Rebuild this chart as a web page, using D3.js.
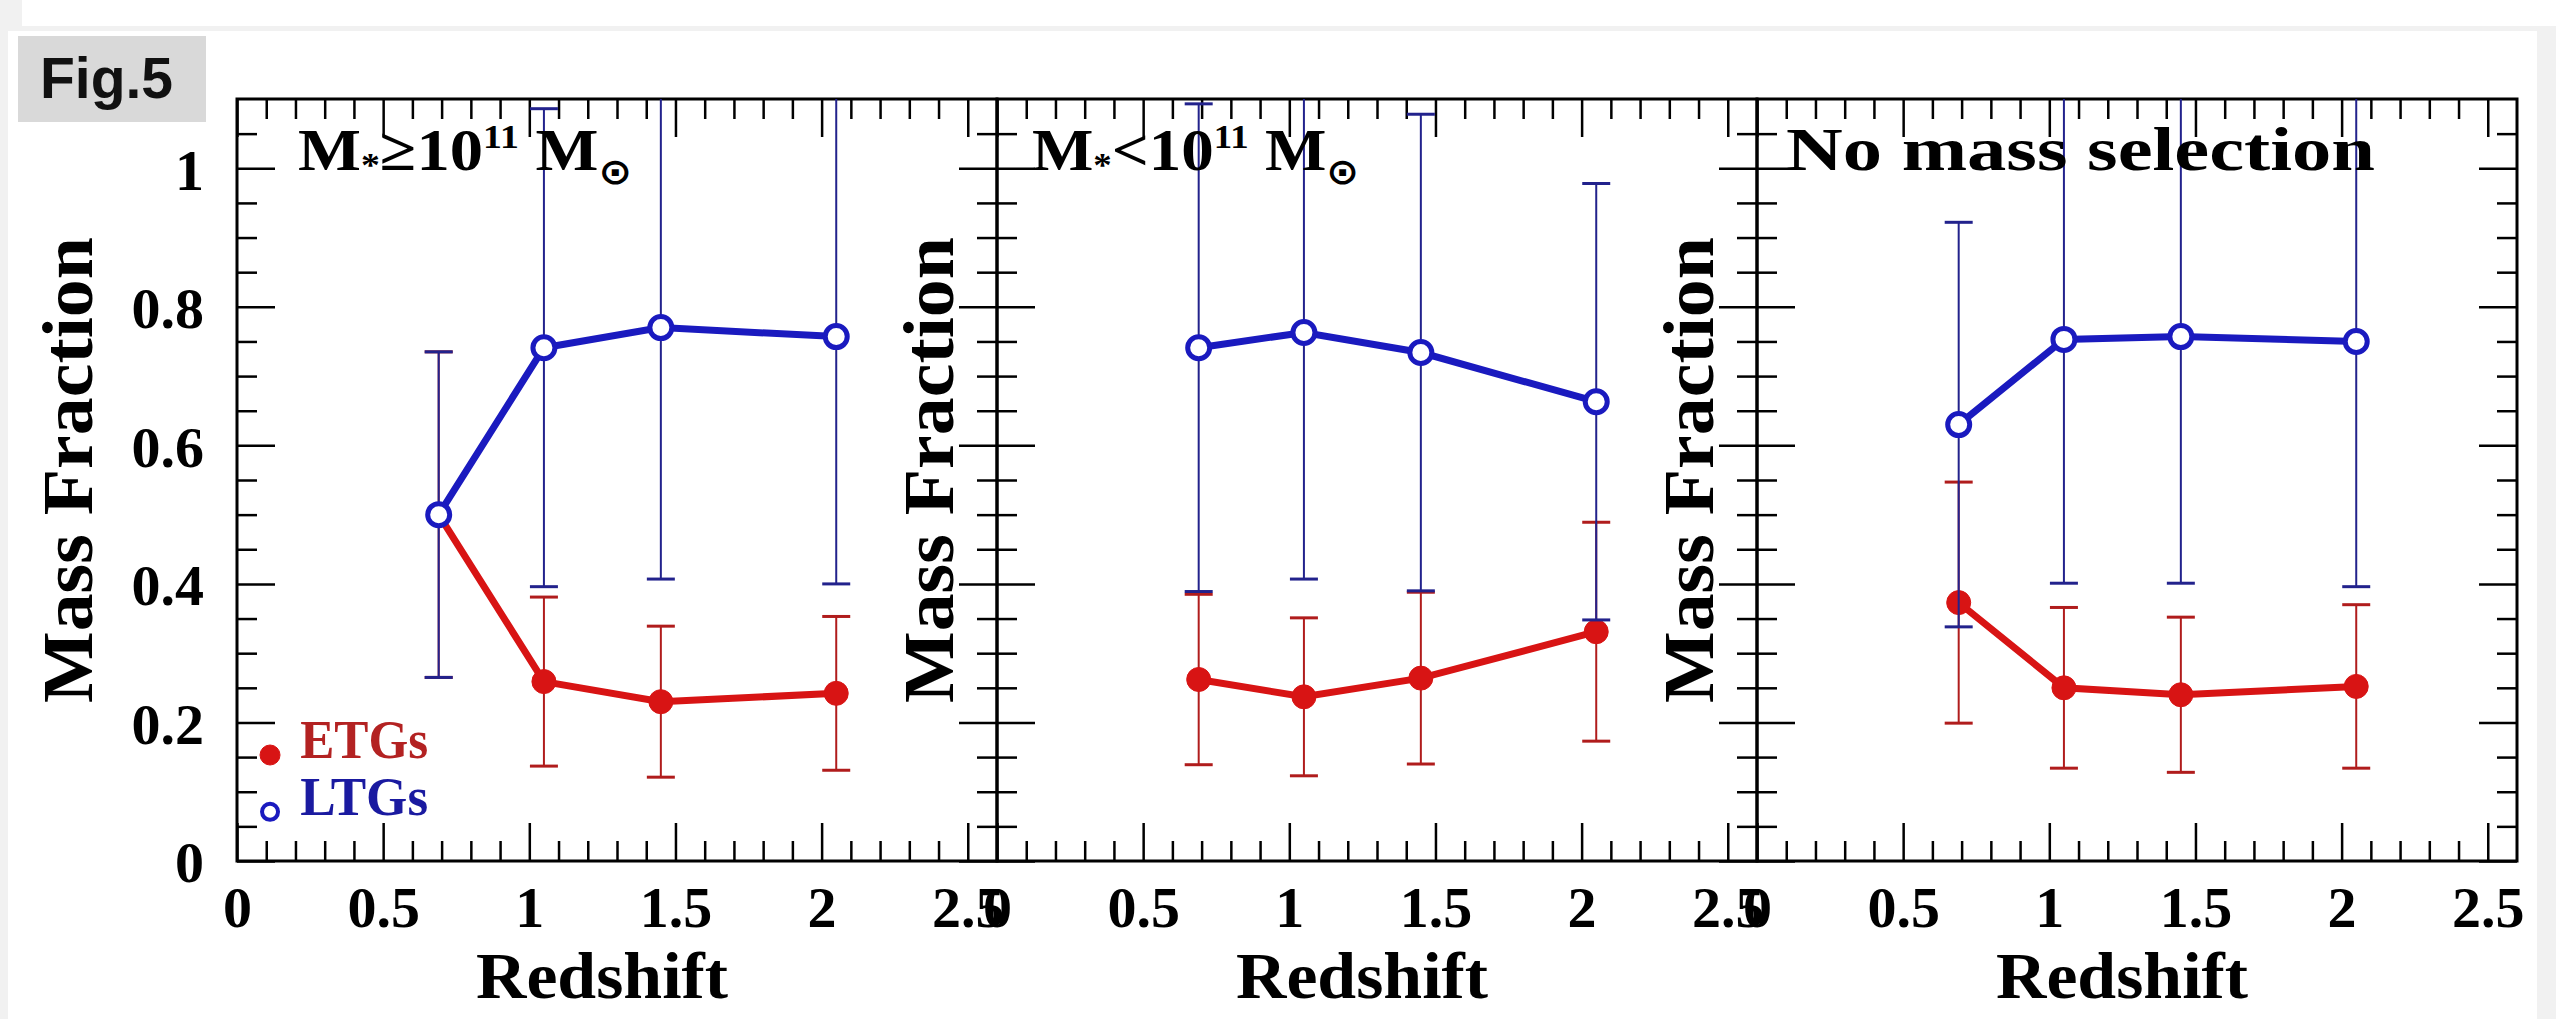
<!DOCTYPE html>
<html>
<head>
<meta charset="utf-8">
<script src="https://cdn.jsdelivr.net/npm/d3@7"></script>
<style>
  html, body { margin: 0; padding: 0; background: #f1f1f1; }
  svg { display: block; }
  .serif { font-family: "Liberation Serif", "DejaVu Serif", serif; font-weight: bold; }
</style>
</head>
<body>
<svg id="chart"></svg>
<script>
// redshift bins (same in every panel)
var redshift = [0.69, 1.05, 1.45, 2.05];

// M* >= 1e11 Msun
var ltgHigh    = [0.500, 0.741, 0.770, 0.757];
var ltgHighErr = [0.235, 0.345, 0.363, 0.357];
var etgHigh    = [0.500, 0.259, 0.230, 0.242];
var etgHighErr = [0.235, 0.122, 0.109, 0.111];

// M* < 1e11 Msun
var ltgLow    = [0.741, 0.763, 0.734, 0.663];
var ltgLowErr = [0.352, 0.356, 0.344, 0.315];
var etgLow    = [0.262, 0.237, 0.264, 0.331];
var etgLowErr = [0.123, 0.114, 0.124, 0.158];

// no mass selection
var ltgAll    = [0.630, 0.753, 0.757, 0.750];
var ltgAllErr = [0.292, 0.352, 0.356, 0.354];
var etgAll    = [0.373, 0.250, 0.240, 0.252];
var etgAllErr = [0.174, 0.116, 0.112, 0.118];

var xTicks = [0, 0.5, 1, 1.5, 2, 2.5];
var yTicks = [0, 0.2, 0.4, 0.6, 0.8, 1];

var W = 2556, H = 1019;
var panelLeft = [237, 997, 1757];
var panelW = 760, plotTop = 99, plotBottom = 861;

var blueLine = "#1a1abf", blueBar = "#22228c";
var redLine = "#d81414", redBar = "#b01c1c";

var svg = d3.select("#chart").attr("width", W).attr("height", H);

// page background pieces
svg.append("rect").attr("width", W).attr("height", H).attr("fill", "#f1f1f1");
svg.append("rect").attr("x", 22).attr("y", 0).attr("width", W - 22).attr("height", 26).attr("fill", "#fff");
svg.append("rect").attr("x", 8).attr("y", 31).attr("width", 2529).attr("height", H - 31).attr("fill", "#fff");

// Fig.5 tag
svg.append("rect").attr("x", 18).attr("y", 36).attr("width", 188).attr("height", 86).attr("fill", "#d9d9d9");
svg.append("text").attr("x", 40).attr("y", 98)
   .attr("font-family", "Liberation Sans, Arial, sans-serif").attr("font-weight", "bold")
   .attr("font-size", "57px").attr("fill", "#111").text("Fig.5");

var panels = [
  {ltg: ltgHigh, ltgErr: ltgHighErr, etg: etgHigh, etgErr: etgHighErr},
  {ltg: ltgLow, ltgErr: ltgLowErr, etg: etgLow, etgErr: etgLowErr},
  {ltg: ltgAll, ltgErr: ltgAllErr, etg: etgAll, etgErr: etgAllErr}
];

var minorX = d3.range(0, 26).map(function(i) { return i / 10; }).filter(function(d, i) { return i % 5 != 0; });
var minorY = d3.range(0, 22).map(function(i) { return i * 0.05; }).filter(function(d, i) { return i % 4 != 0; });

function clean(sel) {
  sel.select(".domain").remove();
  sel.selectAll(".tick line").attr("stroke", "#000").attr("stroke-width", 2.5);
  sel.selectAll(".tick text").attr("class", "serif").attr("fill", "#000").attr("font-size", "58px");
}

panels.forEach(function(p, i) {
  var left = panelLeft[i];
  var x = d3.scaleLinear().domain([0, 2.6]).range([left, left + panelW]);
  var y = d3.scaleLinear().domain([0, 1.1]).range([plotBottom, plotTop]);
  var g = svg.append("g");

  g.append("clipPath").attr("id", "clip" + i)
   .append("rect").attr("x", left).attr("y", plotTop).attr("width", panelW).attr("height", plotBottom - plotTop);

  // ticks: major and minor on all four sides, pointing inwards
  g.append("g").attr("transform", "translate(0," + plotBottom + ")")
   .call(d3.axisBottom(x).tickValues(xTicks).tickSize(-38).tickSizeOuter(0).tickPadding(25)
         .tickFormat(function(d) { return String(d); }))
   .call(clean);
  g.append("g").attr("transform", "translate(0," + plotBottom + ")")
   .call(d3.axisBottom(x).tickValues(minorX).tickSize(-20).tickSizeOuter(0).tickFormat(""))
   .call(clean);
  g.append("g").attr("transform", "translate(0," + plotTop + ")")
   .call(d3.axisTop(x).tickValues(xTicks).tickSize(-38).tickSizeOuter(0).tickFormat(""))
   .call(clean);
  g.append("g").attr("transform", "translate(0," + plotTop + ")")
   .call(d3.axisTop(x).tickValues(minorX).tickSize(-20).tickSizeOuter(0).tickFormat(""))
   .call(clean);
  var yAx = g.append("g").attr("transform", "translate(" + left + ",0)")
   .call(d3.axisLeft(y).tickValues(yTicks).tickSize(-38).tickSizeOuter(0).tickPadding(33)
         .tickFormat(i == 0 ? function(d) { return String(d); } : ""))
   .call(clean);
  yAx.selectAll(".tick text").attr("dy", "0.36em");
  g.append("g").attr("transform", "translate(" + left + ",0)")
   .call(d3.axisLeft(y).tickValues(minorY).tickSize(-20).tickSizeOuter(0).tickFormat(""))
   .call(clean);
  g.append("g").attr("transform", "translate(" + (left + panelW) + ",0)")
   .call(d3.axisRight(y).tickValues(yTicks).tickSize(-38).tickSizeOuter(0).tickFormat(""))
   .call(clean);
  g.append("g").attr("transform", "translate(" + (left + panelW) + ",0)")
   .call(d3.axisRight(y).tickValues(minorY).tickSize(-20).tickSizeOuter(0).tickFormat(""))
   .call(clean);

  g.append("rect").attr("x", left).attr("y", plotTop).attr("width", panelW).attr("height", plotBottom - plotTop)
   .attr("fill", "none").attr("stroke", "#000").attr("stroke-width", 3);

  var plot = g.append("g").attr("clip-path", "url(#clip" + i + ")");

  function series(vals, errs, lineColor, barColor, filled) {
    var pts = redshift.map(function(z, k) { return {z: z, v: vals[k], e: errs[k]}; });
    var bars = plot.append("g").attr("stroke", barColor).attr("stroke-width", 2).attr("fill", "none");
    pts.forEach(function(d) {
      bars.append("line").attr("x1", x(d.z)).attr("x2", x(d.z)).attr("y1", y(d.v - d.e)).attr("y2", y(d.v + d.e));
      [d.v - d.e, d.v + d.e].forEach(function(c) {
        bars.append("line").attr("x1", x(d.z) - 14).attr("x2", x(d.z) + 14).attr("y1", y(c)).attr("y2", y(c))
            .attr("stroke-width", 3);
      });
    });
    plot.append("path").datum(pts)
      .attr("d", d3.line().x(function(d) { return x(d.z); }).y(function(d) { return y(d.v); }))
      .attr("fill", "none").attr("stroke", lineColor).attr("stroke-width", 7);
    plot.selectAll(null).data(pts).enter().append("circle")
      .attr("cx", function(d) { return x(d.z); }).attr("cy", function(d) { return y(d.v); })
      .attr("r", filled ? 12 : 11)
      .attr("fill", filled ? lineColor : "#fff")
      .attr("stroke", lineColor).attr("stroke-width", filled ? 1 : 5);
  }
  series(p.etg, p.etgErr, redLine, redBar, true);
  series(p.ltg, p.ltgErr, blueLine, blueBar, false);

  // axis titles
  g.append("text").attr("class", "serif").attr("font-size", "66px")
   .attr("x", left + 365).attr("y", 998).attr("text-anchor", "middle")
   .attr("textLength", 252).attr("lengthAdjust", "spacingAndGlyphs").text("Redshift");
  var yLabX = i == 0 ? left - 169 : left - 68;
  g.append("text").attr("class", "serif").attr("font-size", "72px")
   .attr("transform", "translate(" + yLabX + ",470) rotate(-90)")
   .attr("text-anchor", "middle").attr("dy", "0.33em")
   .attr("textLength", 466).attr("lengthAdjust", "spacingAndGlyphs").text("Mass Fraction");
});

// panel titles
function massLabel(left, sym, len, offset) {
  var t = svg.append("text").attr("class", "serif").attr("font-size", "60px")
    .attr("x", left + offset).attr("y", 170).attr("textLength", len).attr("lengthAdjust", "spacingAndGlyphs");
  t.append("tspan").text("M");
  t.append("tspan").attr("font-size", "34px").attr("dy", 6).text("*");
  t.append("tspan").attr("dy", -6).text(sym + "10");
  t.append("tspan").attr("font-size", "34px").attr("dy", -22).text("11");
  t.append("tspan").attr("dy", 22).text(" M");
  t.append("tspan").attr("font-size", "36px").attr("dy", 14).attr("font-family", "DejaVu Sans").text("\u2299");
}
massLabel(panelLeft[0], "\u2265", 334, 61);
massLabel(panelLeft[1], "<", 327, 35);
svg.append("text").attr("class", "serif").attr("font-size", "62px")
   .attr("x", panelLeft[2] + 29).attr("y", 170).attr("textLength", 589).attr("lengthAdjust", "spacingAndGlyphs")
   .text("No mass selection");

// legend in first panel
var lx = d3.scaleLinear().domain([0, 2.6]).range([panelLeft[0], panelLeft[0] + panelW]);
var ly = d3.scaleLinear().domain([0, 1.1]).range([plotBottom, plotTop]);
var legend = [
  {name: "ETGs", v: 0.153, color: redLine, text: "#b32222", filled: true},
  {name: "LTGs", v: 0.071, color: blueLine, text: "#1a1aa0", filled: false}
];
legend.forEach(function(d) {
  svg.append("circle").attr("cx", lx(0.113)).attr("cy", ly(d.v)).attr("r", d.filled ? 10 : 8)
     .attr("fill", d.filled ? d.color : "#fff").attr("stroke", d.color).attr("stroke-width", d.filled ? 1 : 4);
  svg.append("text").attr("class", "serif").attr("font-size", "54px").attr("fill", d.text)
     .attr("x", lx(0.216)).attr("y", ly(d.v) + 3).attr("textLength", 128).attr("lengthAdjust", "spacingAndGlyphs")
     .text(d.name);
});
</script>
</body>
</html>
